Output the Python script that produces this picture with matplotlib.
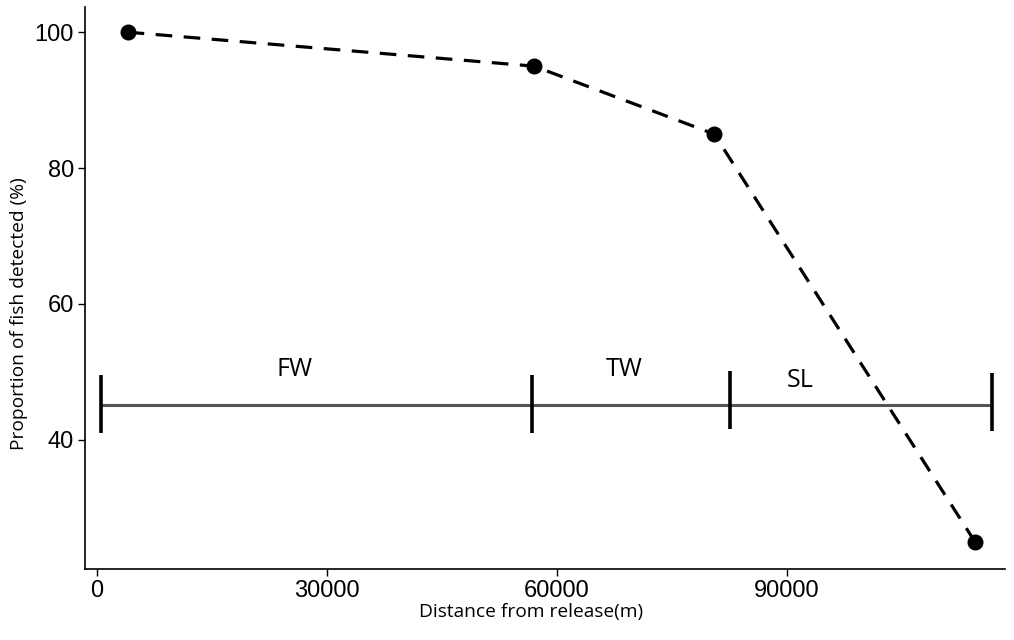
import matplotlib
matplotlib.use("Agg")
import matplotlib.pyplot as plt

# detection data
distance = [4000, 57000, 80500, 114500]
detected = [100, 95, 85, 25]

# habitat segments along the river
seg_edges = [500, 56700, 82600, 116700]
seg_labels = ["FW", "TW", "SL"]
seg_label_x = [25800, 68800, 91700]
seg_label_y = [50.3, 50.4, 48.8]
seg_y = 45.2
tick_lo = [41.0, 41.0, 41.6, 41.3]
tick_hi = [49.6, 49.6, 50.2, 49.8]

xticks = [0, 30000, 60000, 90000]
yticks = [40, 60, 80, 100]

fig = plt.figure(figsize=(10.14, 6.4), dpi=100)
ax = fig.add_axes([0.0838, 0.111, 0.9072, 0.878])

ax.plot(distance, detected, color="black", linestyle=(0, (5.2, 3.6)), linewidth=2.3,
        marker="o", markersize=10.5, zorder=3)

ax.hlines(seg_y, seg_edges[0], seg_edges[-1], color="#555555", linewidth=2.2)
ax.vlines(seg_edges, tick_lo, tick_hi, color="black", linewidth=2.6)
for x, y, lab in zip(seg_label_x, seg_label_y, seg_labels):
    ax.text(x, y, lab, ha="center", va="center", fontsize=18, family="Open Sans")

ax.set_xlim(-1565, 118400)
ax.set_ylim(21, 103.7)
ax.set_xticks(xticks)
ax.set_yticks(yticks)
for lab in ax.get_xticklabels() + ax.get_yticklabels():
    lab.set_family("Liberation Sans")
    lab.set_fontsize(17)
ax.tick_params(length=5, width=1, color="black", pad=3)

for side in ["top", "right"]:
    ax.spines[side].set_visible(False)
for side in ["left", "bottom"]:
    ax.spines[side].set_linewidth(1.2)

ax.set_xlabel("Distance from release(m)", fontsize=13.8, family="Open Sans")
ax.set_ylabel("Proportion of fish detected (%)", fontsize=13.8, family="Open Sans")
ax.xaxis.set_label_coords(0.485, -0.061)
ax.yaxis.set_label_coords(-0.062, 0.454)

fig.savefig("out.png", dpi=100)
